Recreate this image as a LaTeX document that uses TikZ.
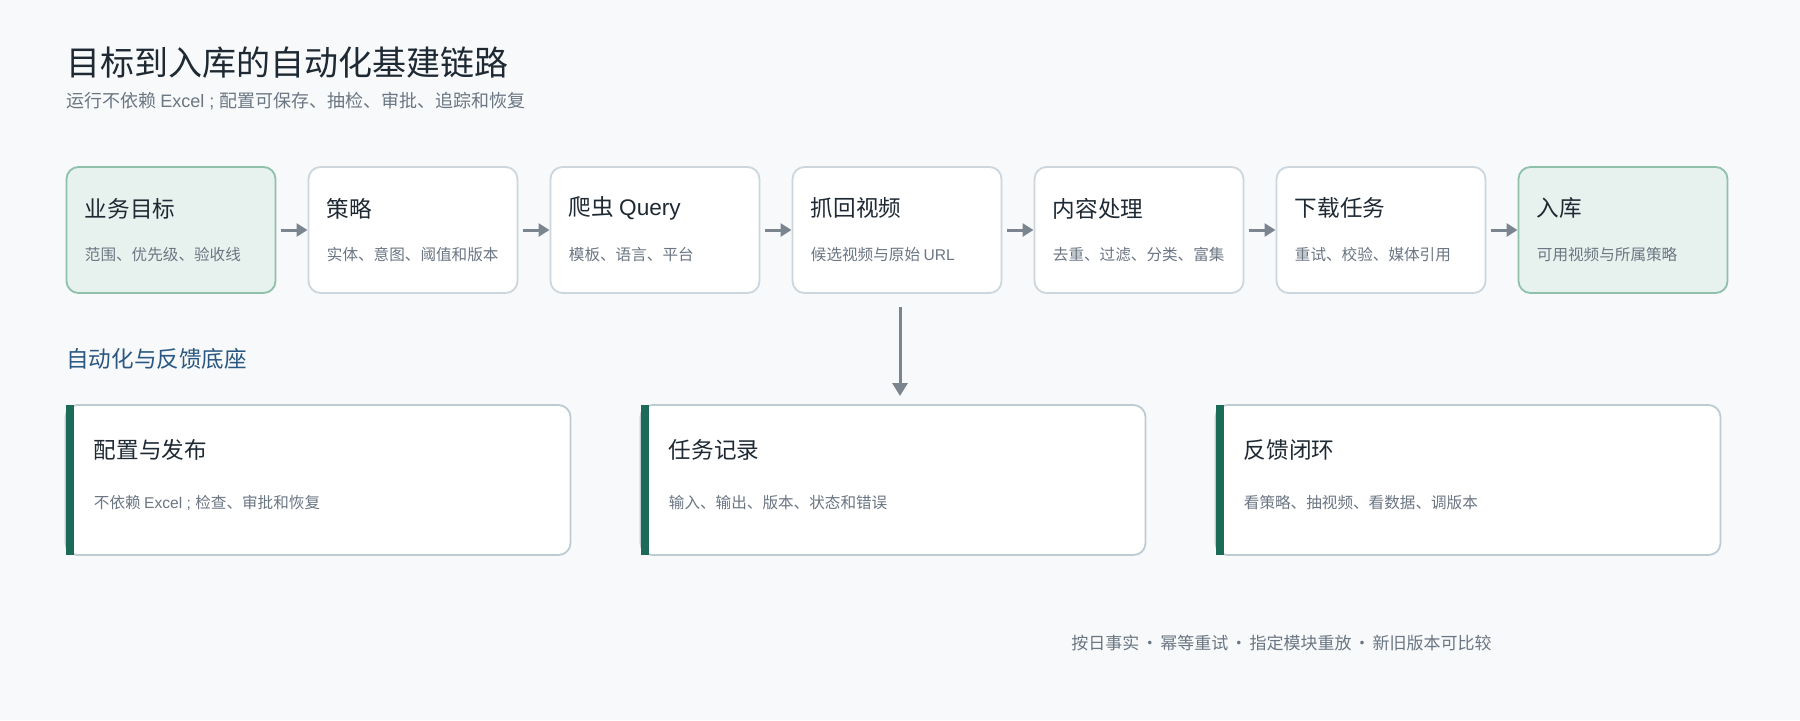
\documentclass[tikz,border=0pt]{standalone}
\usepackage{fontspec}
\setmainfont{Noto Sans CJK SC}
\newfontfamily\latin{Liberation Sans}
\usetikzlibrary{positioning,arrows.meta}

\definecolor{bgpage}{HTML}{F7F9FA}
\definecolor{ink}{HTML}{1E2933}
\definecolor{muted}{HTML}{6B7683}
\definecolor{boxline}{HTML}{CCD6DC}
\definecolor{goalline}{HTML}{8FC0AA}
\definecolor{goalfill}{HTML}{E7F2EE}
\definecolor{arrowgray}{HTML}{7B8590}
\definecolor{accent}{HTML}{1C6B58}
\definecolor{cardline}{HTML}{BFCBD3}
\definecolor{section}{HTML}{2A5883}

\newcommand\dotsep{\hspace{0.12em}·\hspace{0.12em}}

\begin{document}
\begin{tikzpicture}[x=0.5pt,y=-0.5pt,
    stage/.style={draw=boxline,fill=white,line width=0.9pt,rounded corners=6pt,
      minimum width=104.5pt,minimum height=63pt,inner sep=0pt,outer sep=0pt},
    goal/.style={stage,draw=goalline,fill=goalfill},
    card/.style={draw=cardline,fill=white,line width=0.9pt,rounded corners=6pt,
      minimum width=252.5pt,minimum height=75pt,inner sep=0pt,outer sep=0pt},
    head/.style={anchor=west,inner sep=0pt,text=ink,font=\fontsize{11.3}{13}\selectfont},
    note/.style={anchor=west,inner sep=0pt,text=muted,font=\fontsize{7.8}{10}\selectfont},
    flow/.style={draw=arrowgray,line width=1.5pt,-{Triangle[length=5.5pt,width=6.5pt]},
      shorten <=2.5pt,shorten >=0.5pt},
    drop/.style={draw=arrowgray,line width=1.5pt,-{Triangle[length=6.5pt,width=7.5pt]},
      shorten <=7pt,shorten >=4.5pt}]
  \fill[bgpage] (0,0) rectangle (1800,720);
  \useasboundingbox (0,0) rectangle (1800,720);

  % heading
  \node[anchor=west,inner sep=0pt,text=ink,font=\fontsize{17}{20}\selectfont] (title) at (66,63) {目标到入库的自动化基建链路};
  \node[anchor=west,inner sep=0pt,text=muted,font=\fontsize{9}{11}\selectfont] (subtitle) at (66,101) {运行不依赖 {\latin Excel ; }配置可保存、抽检、审批、追踪和恢复};

  % pipeline
  \node[goal] (target) at (171,230) {};
  \node[stage,right=16.5pt of target] (policy) {};
  \node[stage,right=16.5pt of policy] (query) {};
  \node[stage,right=16.5pt of query] (fetch) {};
  \node[stage,right=16.5pt of fetch] (proc) {};
  \node[stage,right=16.5pt of proc] (dl) {};
  \node[goal,right=16.5pt of dl] (store) {};

  \foreach \n/\t/\s in {target/业务目标/范围、优先级、验收线,
      policy/策略/实体、意图、阈值和版本,
      query/爬虫 {\latin Query}/模板、语言、平台,
      fetch/抓回视频/候选视频与原始 {\latin URL},
      proc/内容处理/去重、过滤、分类、富集,
      dl/下载任务/重试、校验、媒体引用,
      store/入库/可用视频与所属策略}{
    \node[head] (\n-t) at ([xshift=9pt,yshift=10.8pt]\n.west) {\t};
    \node[note] (\n-s) at ([xshift=9pt,yshift=-12.2pt]\n.west) {\s};
  }

  \draw[flow] (target) -- (policy);
  \draw[flow] (policy) -- (query);
  \draw[flow] (query) -- (fetch);
  \draw[flow] (fetch) -- (proc);
  \draw[flow] (proc) -- (dl);
  \draw[flow] (dl) -- (store);

  % base
  \node[anchor=west,inner sep=0pt,text=section,font=\fontsize{11.3}{13}\selectfont] (base) at (66,359) {自动化与反馈底座};

  \node[card] (setup) at (318,480) {};
  \node[card,right=35pt of setup] (rec) {};
  \node[card,right=35pt of rec] (fb) {};

  \foreach \n/\t/\s in {setup/配置与发布/不依赖 {\latin Excel ; }检查、审批和恢复,
      rec/任务记录/输入、输出、版本、状态和错误,
      fb/反馈闭环/看策略、抽视频、看数据、调版本}{
    \fill[accent] (\n.north west) rectangle ([xshift=4pt]\n.south west);
    \node[head] (\n-t) at ([xshift=14pt,yshift=15pt]\n.west) {\t};
    \node[note] (\n-s) at ([xshift=14pt,yshift=-11.5pt]\n.west) {\s};
  }

  \draw[drop] ([xshift=1.5pt]fetch.south) -- ([xshift=1.5pt]fetch.south |- rec.north);

  % footer
  \node[anchor=east,inner sep=0pt,text=muted,font=\fontsize{8.5}{10}\selectfont] (foot) at (1492,643) {按日事实\dotsep 幂等重试\dotsep 指定模块重放\dotsep 新旧版本可比较};
\end{tikzpicture}
\end{document}
